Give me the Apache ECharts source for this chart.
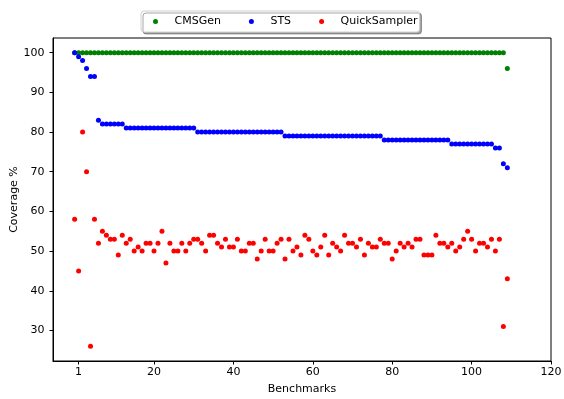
<!DOCTYPE html>
<html>
<head>
<meta charset="utf-8">
<script src="https://cdn.jsdelivr.net/npm/echarts@6/dist/echarts.min.js"></script>
<style>
  html, body { margin: 0; padding: 0; background: #fff; }
  #chart { width: 564px; height: 399px; }
</style>
</head>
<body>
<div id="chart"></div>
<script>
// 坐标刻度
const xTicks = [1, 20, 40, 60, 80, 100, 120]
const yTicks = [30, 40, 50, 60, 70, 80, 90, 100]

// 各采样器的覆盖率（按 benchmark 序号 0..109）
const cmsgen = [
  100, 100, 100, 100, 100, 100, 100, 100, 100, 100,
  100, 100, 100, 100, 100, 100, 100, 100, 100, 100,
  100, 100, 100, 100, 100, 100, 100, 100, 100, 100,
  100, 100, 100, 100, 100, 100, 100, 100, 100, 100,
  100, 100, 100, 100, 100, 100, 100, 100, 100, 100,
  100, 100, 100, 100, 100, 100, 100, 100, 100, 100,
  100, 100, 100, 100, 100, 100, 100, 100, 100, 100,
  100, 100, 100, 100, 100, 100, 100, 100, 100, 100,
  100, 100, 100, 100, 100, 100, 100, 100, 100, 100,
  100, 100, 100, 100, 100, 100, 100, 100, 100, 100,
  100, 100, 100, 100, 100, 100, 100, 100, 100, 96
]
const sts = [
  100, 99, 98, 96, 94, 94, 83, 82, 82, 82,
  82, 82, 82, 81, 81, 81, 81, 81, 81, 81,
  81, 81, 81, 81, 81, 81, 81, 81, 81, 81,
  81, 80, 80, 80, 80, 80, 80, 80, 80, 80,
  80, 80, 80, 80, 80, 80, 80, 80, 80, 80,
  80, 80, 80, 79, 79, 79, 79, 79, 79, 79,
  79, 79, 79, 79, 79, 79, 79, 79, 79, 79,
  79, 79, 79, 79, 79, 79, 79, 79, 78, 78,
  78, 78, 78, 78, 78, 78, 78, 78, 78, 78,
  78, 78, 78, 78, 78, 77, 77, 77, 77, 77,
  77, 77, 77, 77, 77, 77, 76, 76, 72, 71
]
const quickSampler = [
  58, 45, 80, 70, 26, 58, 52, 55, 54, 53,
  53, 49, 54, 52, 53, 50, 51, 50, 52, 52,
  50, 52, 55, 47, 52, 50, 50, 52, 50, 52,
  53, 53, 52, 50, 54, 54, 52, 51, 53, 51,
  51, 53, 50, 50, 52, 52, 48, 50, 53, 50,
  50, 52, 53, 48, 53, 50, 51, 49, 54, 53,
  50, 49, 51, 54, 49, 52, 51, 50, 54, 52,
  52, 51, 53, 49, 52, 51, 51, 53, 52, 52,
  48, 50, 52, 51, 52, 51, 53, 53, 49, 49,
  49, 54, 52, 52, 51, 52, 50, 51, 53, 55,
  53, 50, 52, 52, 51, 53, 50, 53, 31, 43
]

const font = 'DejaVu Sans'
const fontSize = 11
const toPoints = (arr) => arr.map((v, i) => [i, v])

const makeSeries = (name, data, color) => ({
  name,
  type: 'scatter',
  data: toPoints(data),
  symbol: 'circle',
  symbolSize: 5,
  itemStyle: { color, opacity: 1 },
  emphasis: { disabled: true }
})

const chart = echarts.init(document.getElementById('chart'))

chart.setOption({
  animation: false,
  textStyle: { fontFamily: font },
  legend: {
    left: 141,
    top: 11,
    padding: [5, 2, 5, 12],
    itemWidth: 5,
    itemHeight: 5,
    itemGap: 28,
    icon: 'circle',
    backgroundColor: '#fff',
    borderColor: '#d0d0d0',
    borderWidth: 1,
    borderRadius: 3,
    shadowColor: 'rgba(0,0,0,0.35)',
    shadowOffsetX: 2,
    shadowOffsetY: 2,
    shadowBlur: 0,
    textStyle: { fontFamily: font, fontSize, color: '#000', padding: [0, 0, 0, 11.5] },
    data: ['CMSGen', 'STS', 'QuickSampler']
  },
  grid: {
    left: 53,
    right: 13,
    top: 38,
    bottom: 38,
    outerBoundsMode: 'none',
    show: true,
    borderColor: '#000',
    borderWidth: 1,
    backgroundColor: 'transparent'
  },
  xAxis: {
    type: 'value',
    min: -5.45,
    max: 120,
    name: 'Benchmarks',
    nameLocation: 'middle',
    nameGap: 22.5,
    nameMoveOverlap: false,
    nameTextStyle: { fontFamily: font, fontSize, color: '#000' },
    axisLine: { show: true, onZero: false, lineStyle: { color: '#000', width: 1 } },
    axisTick: { show: true, length: 3.5, lineStyle: { color: '#000' }, customValues: xTicks },
    axisLabel: { fontFamily: font, fontSize, color: '#000', margin: 6, customValues: xTicks },
    splitLine: { show: false }
  },
  yAxis: {
    type: 'value',
    min: 22.3,
    max: 103.7,
    name: 'Coverage %',
    nameLocation: 'middle',
    nameGap: 33,
    nameMoveOverlap: false,
    nameTextStyle: { fontFamily: font, fontSize, color: '#000' },
    axisLine: { show: true, onZero: false, lineStyle: { color: '#000', width: 1 } },
    axisTick: { show: true, length: 3.5, lineStyle: { color: '#000' }, customValues: yTicks },
    axisLabel: { fontFamily: font, fontSize, color: '#000', margin: 8.5, customValues: yTicks },
    splitLine: { show: false }
  },
  series: [
    makeSeries('CMSGen', cmsgen, '#008000'),
    makeSeries('STS', sts, '#0000ff'),
    makeSeries('QuickSampler', quickSampler, '#ff0000')
  ]
})
</script>
</body>
</html>
